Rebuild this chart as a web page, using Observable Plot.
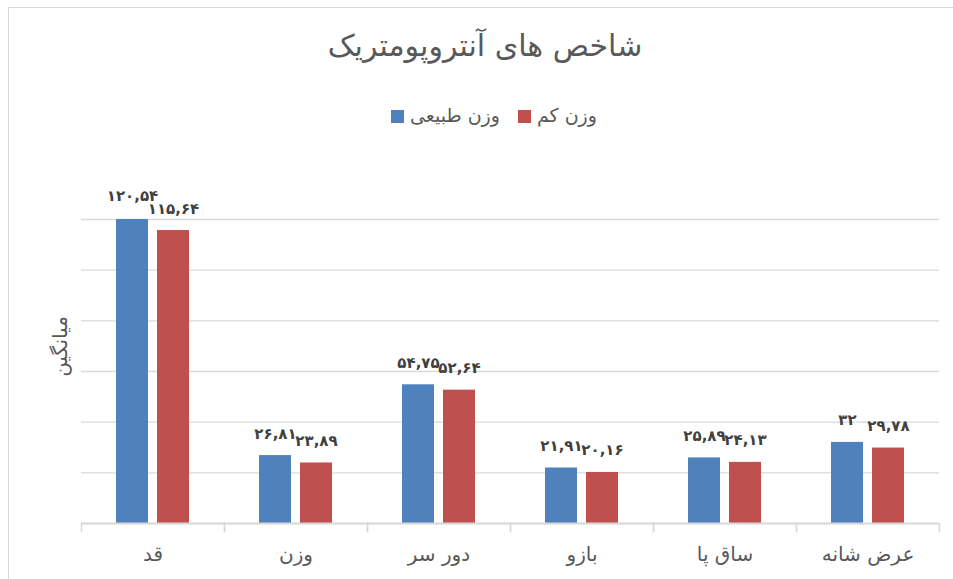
<!DOCTYPE html>
<html>
<head>
<meta charset="utf-8">
<script src="https://cdn.jsdelivr.net/npm/d3@7"></script>
<script src="https://cdn.jsdelivr.net/npm/@observablehq/plot@0.6"></script>
<style>
  html, body { margin: 0; padding: 0; background: #fff; overflow: hidden; width: 953px; height: 579px; }
  body { position: relative; font-family: "DejaVu Sans", sans-serif; }
  #border { position: absolute; left: 8px; top: 7px; width: 1000px; height: 1000px; border-left: 1.5px solid #d9d9d9; border-top: 1.5px solid #d9d9d9; }
  #title { position: absolute; left: 0; width: 970px; top: 28px; text-align: center; font-size: 30px; color: #595959; }
  #legend { position: absolute; left: 0; width: 988px; top: 104px; text-align: center; font-size: 19px; color: #595959; direction: ltr; }
  .item { display: inline-block; margin: 0 9px; }
  .sw { display: inline-block; width: 13px; height: 13px; vertical-align: middle; margin-right: 6px; }
  #chart { position: absolute; left: 0; top: 150px; }
</style>
</head>
<body>
<div id="border"></div>
<div id="title">شاخص های آنتروپومتریک</div>
<div id="legend"></div>
<div id="chart"></div>
<script>
const titleText = "شاخص های آنتروپومتریک";
const yLabel = "میانگین";
const categories = ["قد", "وزن", "دور سر", "بازو", "ساق پا", "عرض شانه"];
const seriesNames = ["وزن طبیعی", "وزن کم"];
const normalValues = [120.54, 26.81, 54.75, 21.91, 25.89, 32];
const lowValues = [115.64, 23.89, 52.64, 20.16, 24.13, 29.78];
const yTicks = [0, 20, 40, 60, 80, 100, 120];
const seriesColors = ["#4F81BD", "#C0504D"];

const rows = [];
categories.forEach((c, i) => {
  rows.push({category: c, series: seriesNames[0], value: normalValues[i]});
  rows.push({category: c, series: seriesNames[1], value: lowValues[i]});
});

const persianDigits = "۰۱۲۳۴۵۶۷۸۹";
const fmt = v => String(v).replace(".", ",").replace(/\d/g, d => persianDigits[+d]);

// legend
const legend = document.getElementById("legend");
seriesNames.forEach((s, i) => {
  const it = document.createElement("span");
  it.className = "item";
  const sw = document.createElement("span");
  sw.className = "sw";
  sw.style.background = seriesColors[i];
  const tx = document.createElement("span");
  tx.textContent = s;
  tx.style.direction = "rtl";
  tx.style.unicodeBidi = "isolate";
  it.appendChild(sw);
  it.appendChild(tx);
  legend.appendChild(it);
});

const chart = Plot.plot({
  width: 953,
  height: 429,
  marginLeft: 79,
  marginRight: 13,
  marginTop: 69,
  marginBottom: 56,
  style: {fontFamily: "DejaVu Sans", color: "#595959", background: "transparent", overflow: "visible"},
  fx: {domain: categories, padding: 0, label: null},
  x: {domain: seriesNames, paddingInner: 0.23, paddingOuter: 0.84, axis: null},
  y: {domain: [0, 120], axis: null},
  color: {domain: seriesNames, range: seriesColors},
  marks: [
    Plot.gridY(yTicks, {stroke: "#d9d9d9", strokeOpacity: 1, strokeWidth: 1.3}),
    Plot.barY(rows, {fx: "category", x: "series", y: "value", fill: "series", clip: true}),
    Plot.ruleY([0], {stroke: "#d9d9d9", strokeOpacity: 1, strokeWidth: 2}),
    Plot.frame({anchor: "left", stroke: "#d9d9d9", strokeWidth: 1.5, insetTop: 304, insetBottom: -8}),
    Plot.frame({anchor: "right", stroke: "#d9d9d9", strokeWidth: 1.5, insetTop: 304, insetBottom: -8}),
    Plot.text(rows, {fx: "category", x: "series", y: "value", text: d => fmt(d.value), dy: -17, lineAnchor: "bottom", fontWeight: "bold", fontSize: 15, fill: "#404040"}),
    Plot.axisFx({anchor: "bottom", tickSize: 0, tickPadding: 23, fontSize: 20, label: null}),
    Plot.text([yLabel], {fx: () => categories[0], text: d => d, frameAnchor: "left", rotate: -90, dx: -21, dy: -25, textAnchor: "middle", lineAnchor: "middle", fontSize: 20, fill: "#595959"})
  ]
});
document.getElementById("chart").appendChild(chart);
</script>
</body>
</html>
